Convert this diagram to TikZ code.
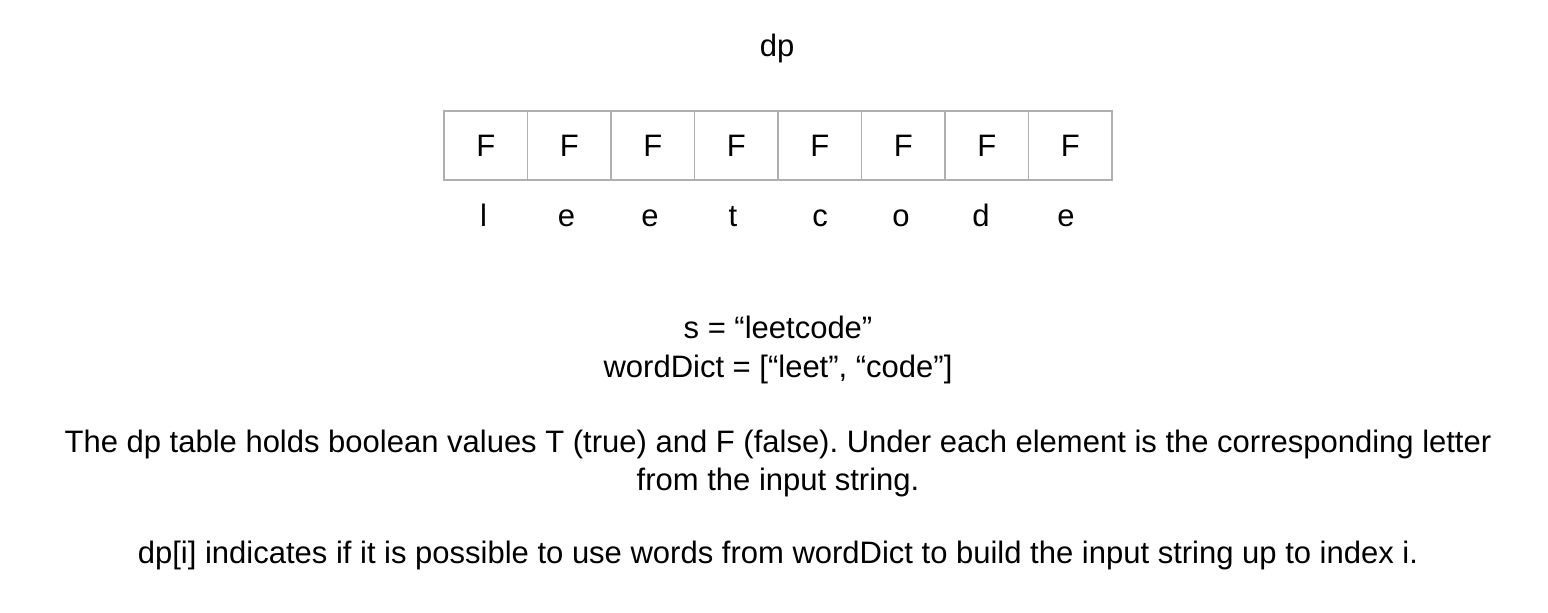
\documentclass[tikz,border=0pt]{standalone}
\usepackage{fontspec}
\setmainfont{Liberation Sans}
\usepackage{tikz}
\usetikzlibrary{calc}
\frenchspacing

\definecolor{cellgray}{RGB}{175,175,175}

\begin{document}
\begin{tikzpicture}[x=0.5pt,y=-0.5pt,
	txt/.style={font=\fontsize{15.5}{18}\selectfont,inner sep=0pt},
	cell/.style={txt,draw=cellgray,line width=0.7pt,minimum width=41.75pt,minimum height=34.5pt}]
	
	\useasboundingbox (0,0) rectangle (1548,612);
	
	\node[txt,anchor=base] (title) at (777,56) {dp};
	
	\node[cell] (c0) at (485.75,145.5) {F};
	\node[cell] (c1) at (569.25,145.5) {F};
	\node[cell] (c2) at (652.75,145.5) {F};
	\node[cell] (c3) at (736.25,145.5) {F};
	\node[cell] (c4) at (819.75,145.5) {F};
	\node[cell] (c5) at (903.25,145.5) {F};
	\node[cell] (c6) at (986.75,145.5) {F};
	\node[cell] (c7) at (1070.25,145.5) {F};
	
	\node[txt,anchor=base] (l0) at (483.5,226) {l};
	\node[txt,anchor=base] (l1) at (566.5,226) {e};
	\node[txt,anchor=base] (l2) at (650,226) {e};
	\node[txt,anchor=base] (l3) at (733,226) {t};
	\node[txt,anchor=base] (l4) at (820,226) {c};
	\node[txt,anchor=base] (l5) at (901,226) {o};
	\node[txt,anchor=base] (l6) at (981,226) {d};
	\node[txt,anchor=base] (l7) at (1066,226) {e};
	
	\node[txt,anchor=base] (s) at (778,338) {s = “leetcode”};
	\node[txt,anchor=base] (dict) at (778,377) {wordDict = [“leet”, “code”]};
	
	\node[txt,anchor=base] (note1) at (778,452) {The dp table holds boolean values T (true) and F (false). Under each element is the corresponding letter};
	\node[txt,anchor=base] (note2) at (778,490) {from the input string.};
	
	\node[txt,anchor=base] (note3) at (778,563) {dp[i] indicates if it is possible to use words from wordDict to build the input string up to index i.};
	
\end{tikzpicture}
\end{document}
